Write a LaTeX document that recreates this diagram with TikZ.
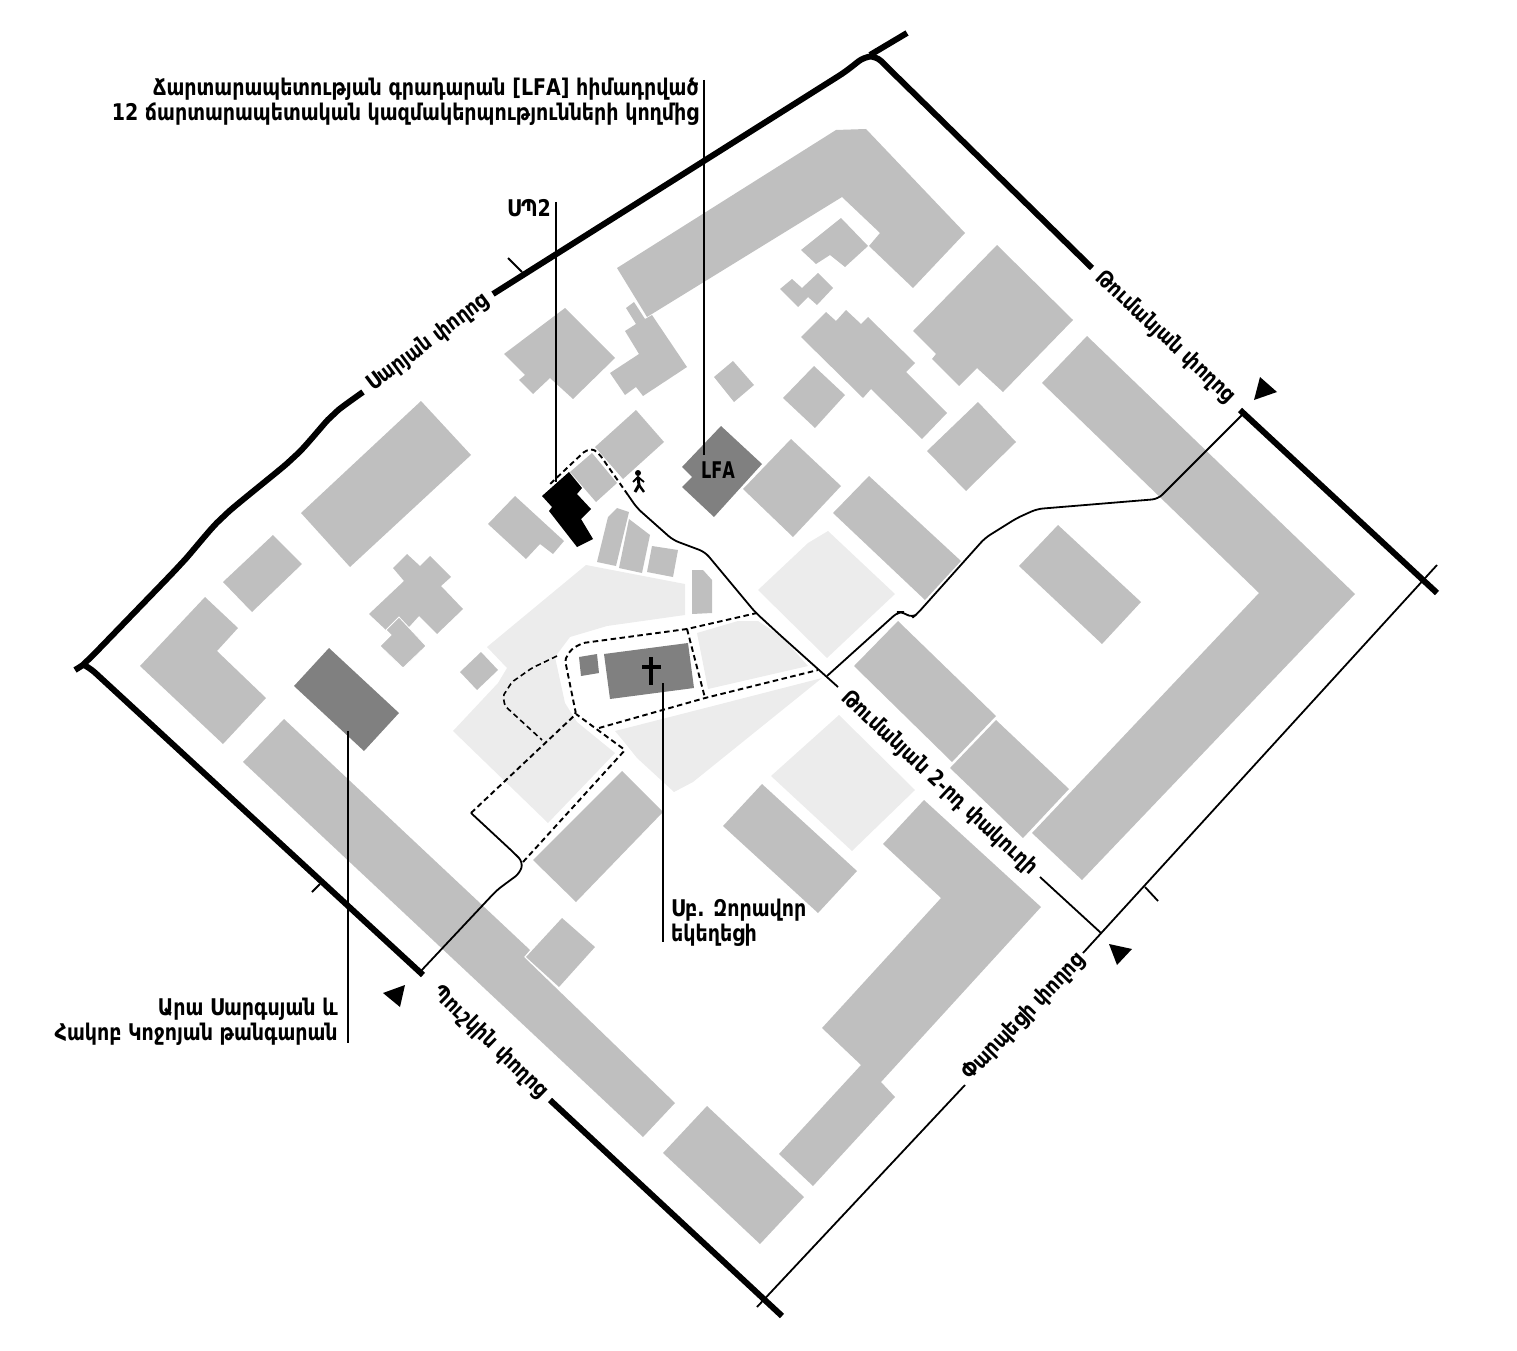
\documentclass[tikz,border=0pt]{standalone}
\usepackage{fontspec}
\newfontfamily\hyfont[Script=Armenian,FakeStretch=0.92]{DejaVu Sans Condensed}
\usetikzlibrary{positioning}
\definecolor{map-block}{RGB}{191, 191, 191}
\definecolor{map-yard}{RGB}{236, 236, 236}
\definecolor{map-dark}{RGB}{128, 128, 128}
\tikzset{
  block/.style={fill=map-block},
  yard/.style={fill=map-yard},
  landmark/.style={fill=map-dark},
  mainroad/.style={draw=black, line width=6pt, rounded corners=7pt},
  sideroad/.style={draw=black, line width=1.8pt, rounded corners=6pt},
  footway/.style={draw=black, line width=1.9pt, dash pattern=on 5.5pt off 3.5pt, rounded corners=2pt},
  leader/.style={draw=black, line width=1.7pt},
  caption/.style={inner sep=0pt, font=\hyfont\bfseries\fontsize{23}{25}\selectfont},
  streetname/.style={inner sep=0pt, font=\hyfont\bfseries\fontsize{22}{25}\selectfont}
}
\begin{document}
\begin{tikzpicture}[x=1pt, y=-1pt]
\useasboundingbox (0,0) rectangle (1517,1351);
\fill[yard] (586,565) -- (685,584) -- (685,615) -- (607,626) -- (570,637) -- (555,657) -- (565,703) -- (577,722) -- (615,753) -- (548,823) -- (453,731) -- (498,683) -- (507,668) -- (487,647) -- cycle;
\fill[yard] (697,633) -- (738,621) -- (758,621) -- (782,637) -- (808,666) -- (708,689) -- cycle;
\fill[yard] (615,731) -- (713,706) -- (822,678) -- (693,782) -- (674,792) -- (637,758) -- (625,743) -- cycle;
\fill[yard] (758,590) -- (808,543) -- (828,531) -- (895,594) -- (827,658) -- cycle;
\fill[yard] (771,776) -- (839,715) -- (915,790) -- (852,851) -- cycle;
\fill[block] (617,268) -- (836,130) -- (866,129) -- (965,233) -- (913,288) -- (869,246) -- (880,233) -- (842,197) -- (647,317) -- cycle;
\fill[block] (841,218) -- (868,246) -- (845,267) -- (830,255) -- (816,264) -- (801,250) -- cycle;
\fill[block] (780,289) -- (792,279) -- (802,288) -- (818,273) -- (833,288) -- (817,305) -- (808,297) -- (798,307) -- cycle;
\fill[block] (801,337) -- (826,312) -- (836,321) -- (846,310) -- (861,324) -- (868,317) -- (915,363) -- (906,372) -- (947,413) -- (922,439) -- (871,389) -- (863,398) -- cycle;
\fill[block] (783,398) -- (814,366) -- (845,395) -- (815,428) -- cycle;
\fill[block] (913,331) -- (997,245) -- (1073,320) -- (1003,392) -- (977,368) -- (959,386) -- (932,359) -- (936,354) -- cycle;
\fill[block] (504,354) -- (565,308) -- (615,358) -- (573,399) -- (550,378) -- (533,394) -- (519,380) -- (525,375) -- cycle;
\fill[block] (626,308) -- (634,302) -- (645,319) -- (652,315) -- (687,367) -- (643,396) -- (636,387) -- (625,395) -- (610,373) -- (639,354) -- (625,331) -- (636,324) -- cycle;
\fill[block] (714,377) -- (733,361) -- (754,385) -- (734,402) -- cycle;
\fill[block] (927,451) -- (978,402) -- (1016,442) -- (966,491) -- cycle;
\fill[block] (1042,383) -- (1087,336) -- (1355,594) -- (1082,880) -- (1032,833) -- (1259,593) -- cycle;
\fill[block] (1019,566) -- (1058,525) -- (1141,602) -- (1102,644) -- cycle;
\fill[block] (854,666) -- (898,621) -- (996,716) -- (952,762) -- cycle;
\fill[block] (950,768) -- (996,720) -- (1069,789) -- (1023,838) -- cycle;
\fill[block] (833,513) -- (869,476) -- (961,561) -- (925,600) -- cycle;
\fill[block] (743,489) -- (791,439) -- (841,486) -- (793,537) -- cycle;
\fill[block] (723,826) -- (762,784) -- (857,871) -- (818,913) -- cycle;
\fill[block] (883,844) -- (924,800) -- (1041,907) -- (881,1082) -- (895,1097) -- (813,1186) -- (779,1154) -- (861,1065) -- (822,1028) -- (941,898) -- cycle;
\fill[block] (663,1153) -- (707,1106) -- (804,1197) -- (760,1244) -- cycle;
\fill[block] (243,762) -- (284,719) -- (530,950) -- (524,957) -- (675,1103) -- (643,1137) -- cycle;
\fill[block] (526,957) -- (562,918) -- (595,947) -- (559,987) -- cycle;
\fill[block] (533,860) -- (622,771) -- (663,812) -- (576,902) -- cycle;
\fill[block] (301,513) -- (421,401) -- (471,455) -- (350,567) -- cycle;
\fill[block] (223,582) -- (273,535) -- (302,564) -- (252,612) -- cycle;
\fill[block] (140,666) -- (205,597) -- (238,628) -- (217,651) -- (266,698) -- (223,744) -- cycle;
\fill[block] (369,614) -- (404,581) -- (393,568) -- (407,554) -- (420,566) -- (430,556) -- (451,577) -- (441,586) -- (463,609) -- (437,634) -- (419,616) -- (409,627) -- (399,617) -- (386,630) -- cycle;
\filldraw[block, draw=white, line width=0.8pt] (380,646) -- (391,635) -- (386,630) -- (399,617) -- (426,646) -- (403,668) -- cycle;
\fill[block] (460,672) -- (481,652) -- (498,670) -- (477,690) -- cycle;
\fill[block] (595,447) -- (636,410) -- (664,442) -- (623,479) -- cycle;
\fill[block] (570,472) -- (592,453) -- (617,483) -- (596,502) -- cycle;
\fill[block] (488,524) -- (515,496) -- (564,541) -- (553,554) -- (540,544) -- (526,559) -- cycle;
\fill[block] (597,562) -- (608,517) -- (617,508) -- (629,512) -- (616,566) -- cycle;
\fill[block] (619,568) -- (629,519) -- (650,535) -- (642,573) -- cycle;
\fill[block] (647,572) -- (652,546) -- (678,550) -- (673,577) -- cycle;
\fill[block] (692,570) -- (703,570) -- (712,580) -- (712,613) -- (692,614) -- cycle;
\fill[landmark] (294,686) -- (329,648) -- (399,713) -- (364,751) -- cycle;
\fill[landmark] (682,467) -- (721,426) -- (762,464) -- (714,517) -- (682,487) -- (692,477) -- cycle;
\fill[landmark] (604,654) -- (688,643) -- (694,688) -- (610,699) -- cycle;
\fill[landmark] (579,657) -- (597,654) -- (599,673) -- (581,676) -- cycle;
\fill[black] (542,496) -- (569,472) -- (582,488) -- (577,494) -- (591,509) -- (581,519) -- (593,539) -- (577,547) -- (549,511) -- (552,507) -- cycle;
\fill[black] (649,657) rectangle (653,685);
\fill[black] (642,665) rectangle (661,669);
\draw[mainroad] plot[smooth, tension=0.4] coordinates {(75,670) (88,660) (130,617) (180,565) (223,517) (293,458) (333,415) (363,392)};
\draw[mainroad] (493,294) -- (845,72) -- (864,57) -- (876,56) -- (886,66) -- (1092,268);
\draw[mainroad] (870,55) -- (907,33);
\draw[mainroad] (1240,410) -- (1437,593);
\draw[mainroad] (82,664) -- (90,668) -- (423,975);
\draw[mainroad] (550,1100) -- (782,1316);
\draw[sideroad] (757,1307) -- (965,1085);
\draw[sideroad] (1083,953) -- (1437,565);
\draw[sideroad] (1040,877) -- (1101,933);
\draw[sideroad] (1145,887) -- (1158,901);
\draw[sideroad] (508,258) -- (522,272);
\draw[sideroad] (312,892) -- (320,884);
\draw[sideroad] (420,972) -- (497,890) -- (520,873) -- (523,862) -- (513,852) -- (471,813);
\draw[sideroad] (628,495) -- (637,508) -- (673,540) -- (705,552) -- (755,612) -- (780,635) -- (838,687);
\draw[sideroad] (1242,415) -- (1158,499) -- (1037,509) -- (1017,518) -- (985,538) -- (917,614) -- (912,618) -- (903,612) -- (898,612) -- (827,676);
\draw[footway] (471,813) -- (576,714) -- (565,660) -- (570,651) -- (575,647) -- (583,643) -- (687,629) -- (757,613);
\draw[footway] (523,862) -- (625,750) -- (576,714);
\draw[footway] (687,629) -- (705,698);
\draw[footway] (599,728) -- (705,698) -- (818,670);
\draw[footway, line width=1.6pt] (557,656) -- (532,668) -- (512,682) -- (503,696) -- (505,706) -- (542,740);
\draw[footway] (628,495) -- (600,455) -- (593,449) -- (585,451) -- (548,486);
\fill[black] (1260,377) -- (1277,392) -- (1254,400) -- cycle;
\fill[black] (1109,944) -- (1132,949) -- (1117,965) -- cycle;
\fill[black] (405,985) -- (400,1007) -- (383,993) -- cycle;
\fill[black] (638,473) circle (3);
\draw[black, line width=3pt] (638,477) -- (639,485) -- (635,492);
\draw[black, line width=2.4pt] (639,485) -- (644,492);
\draw[black, line width=1.8pt] (633,482) -- (638,477) -- (644,482);
\draw[leader] (704,80) -- (704,455);
\draw[leader] (556,202) -- (556,482);
\draw[leader] (348,731) -- (348,1043);
\draw[leader] (663,683) -- (663,942);
\node[caption, anchor=east, align=right] (libnote) at (699,102) {Ճարտարապետության գրադարան [LFA] հիմադրված\\12 ճարտարապետական կազմակերպությունների կողմից};
\node[caption, anchor=east] (sp2) at (551,208) {ՍՊ2};
\node[caption, xscale=0.85] (lfa) at (718,470) {LFA};
\node[caption, anchor=west, align=left] (church) at (671,923) {Սբ. Զորավոր\\եկեղեցի};
\node[caption, anchor=east, align=right] (museum) at (338,1022) {Արա Սարգսյան և\\Հակոբ Կոջոյան թանգարան};
\node[streetname, rotate=37] (saryan) at (428,343) {Սարյան փողոց};
\node[streetname, rotate=-43] (tumanyan) at (1165,337) {Թումանյան փողոց};
\node[streetname, rotate=-43] (tumanyantwo) at (939,783) {Թումանյան 2-րդ փակուղի};
\node[streetname, rotate=-44] (pushkin) at (490,1042) {Պուշկին փողոց};
\node[streetname, rotate=46] (parpetsi) at (1024,1017) {Փարպեցի փողոց};
\end{tikzpicture}
\end{document}
